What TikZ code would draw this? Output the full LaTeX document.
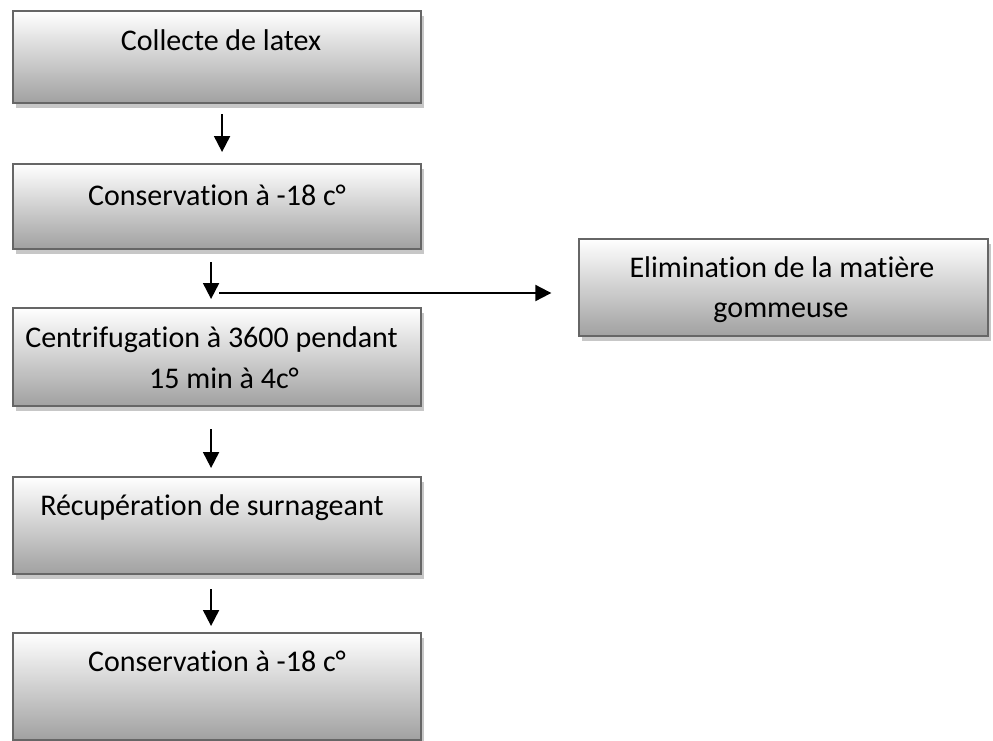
\documentclass[tikz,border=0pt]{standalone}
\usepackage{fontspec}
\setmainfont{Carlito}[Ligatures=NoCommon]
\usetikzlibrary{arrows.meta,shadows,calc}
\begin{document}
\begin{tikzpicture}[x=0.75pt,y=-0.75pt,
  box/.style={rectangle, inner sep=0pt, anchor=north west, draw=black!60, line width=1.6pt,
    top color=white, bottom color=black!37,
    general shadow={shadow xshift=2.25pt, shadow yshift=-3.75pt, fill=black!22}},
  txt/.style={inner sep=0pt, anchor=base, font=\fontsize{22.5pt}{27pt}\selectfont},
  arr/.style={line width=1.5pt, -{Triangle[width=12pt,length=12pt]}}]
\useasboundingbox (0,0) rectangle (993,740);
% boxes
\node[box, minimum width=306pt, minimum height=69pt] (b1) at (12,10) {};
\node[box, minimum width=306pt, minimum height=63.75pt] (b2) at (12,163) {};
\node[box, minimum width=306pt, minimum height=73.5pt] (b3) at (12,307) {};
\node[box, minimum width=306pt, minimum height=72.75pt] (b4) at (12,476) {};
\node[box, minimum width=306pt, minimum height=80.25pt] (b5) at (12,632) {};
\node[box, minimum width=306.75pt, minimum height=72.75pt] (e) at (578,238) {};
% texts
\node[txt] (t1) at (221,50) {Collecte de latex};
\node[txt] (t2) at (217,205) {Conservation à -18 c°};
\node[txt, anchor=base west] (t3a) at (25,347) {Centrifugation à 3600 pendant};
\node[txt] (t3b) at (224,388) {15 min à 4c°};
\node[txt, anchor=base west] (t4) at (40,515) {Récupération de surnageant};
\node[txt] (t5) at (217,671) {Conservation à -18 c°};
\node[txt] (te1) at (782,277) {Elimination de la matière};
\node[txt] (te2) at (781,317) {gommeuse};
% arrows
\draw[arr] ([shift={(5,10)}]b1.south) -- ([shift={(5,-11)}]b2.north);
\draw[arr] ([shift={(-6,12)}]b2.south) -- ([shift={(-6,-8)}]b3.north);
\draw[arr] ([shift={(-6,22)}]b3.south) -- ([shift={(-6,-8)}]b4.north);
\draw[arr] ([shift={(-6,14)}]b4.south) -- ([shift={(-6,-6)}]b5.north);
\coordinate (h) at (219,293);
\draw[arr] (h) -- ([xshift=-20]h -| e.west);
\end{tikzpicture}
\end{document}
